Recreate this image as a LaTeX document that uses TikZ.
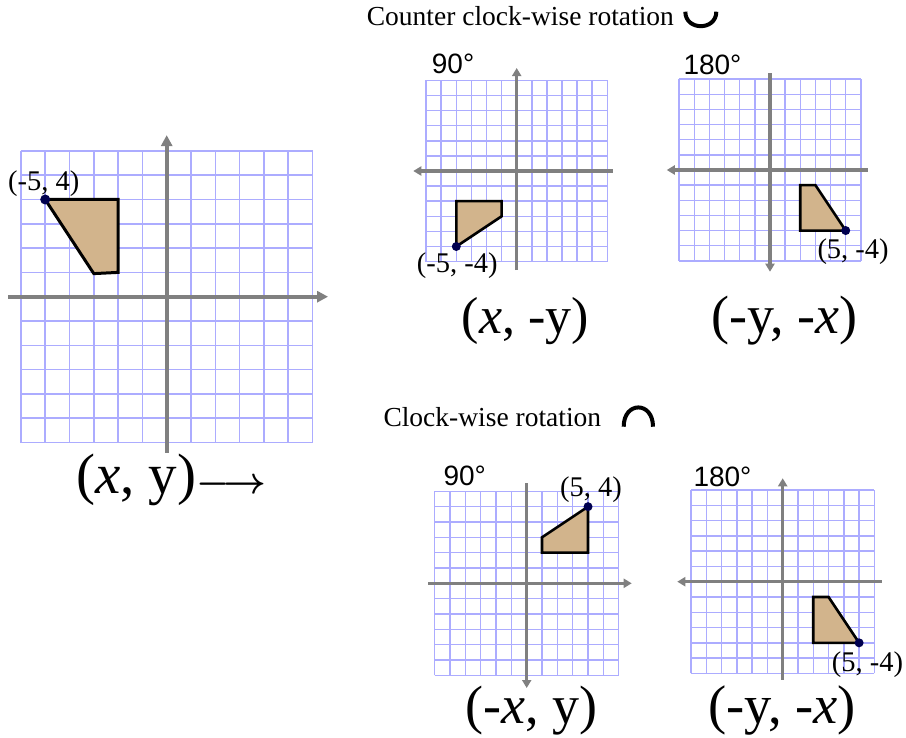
\documentclass[tikz,border=0pt]{standalone}
\usepackage{fontspec}
\setmainfont{Liberation Serif}
\newfontfamily\degfont{Liberation Sans}
\usetikzlibrary{arrows.meta}
\definecolor{gridblue}{RGB}{172,172,255}
\definecolor{axisgray}{RGB}{128,128,128}
\definecolor{shapefill}{RGB}{210,180,140}
\definecolor{dotnavy}{RGB}{0,0,80}
\tikzset{
  gridline/.style={gridblue, line width=1.5pt},
  axisline/.style={axisgray, line width=#1},
  tipbig/.style={-{Triangle[length=11pt,width=11pt]}},
  tipsmall/.style={-{Triangle[length=8pt,width=9pt]}},
  tipsmallrev/.style={{Triangle[length=8pt,width=9pt]}-},
  poly/.style={draw=black, fill=shapefill, line width=#1, line join=miter},
  ptdot/.style={fill=dotnavy},
  coordlbl/.style={font=\fontsize{28.5}{30}\selectfont, inner sep=0pt, anchor=base west},
  biglbl/.style={font=\fontsize{#1}{60}\selectfont, inner sep=0pt, anchor=base west},
  titlelbl/.style={font=\fontsize{27.5}{30}\selectfont, inner sep=0pt, anchor=base west},
  deglbl/.style={font=\degfont\fontsize{28}{30}\selectfont, inner sep=0pt, anchor=base west},
  rotsym/.style={line width=4pt, black},
}
\newcommand\gridlinesrot{%
  \foreach \i in {-6,...,6} {\draw[gridline] (\i,-6) -- (\i,6); \draw[gridline] (-6,\i) -- (6,\i);}}
\begin{document}
\begin{tikzpicture}[x=1pt,y=-1pt]
\useasboundingbox (0,0) rectangle (906,738);
\fill[white] (0,0) rectangle (906,738);

% main grid
\begin{scope}[shift={(166.7,296.7)}, x=24.3pt, y=24.3pt]
  \gridlinesrot
  \draw[axisline=4pt, tipbig] (-6.53,0) -- (6.64,0);
  \draw[axisline=4pt, tipbig] (0,-6.43) -- (0,6.65);
  \draw[poly=3pt] (-5,4) -- (-2,4) -- (-2,1) -- (-3,0.95) -- cycle;
  \fill[ptdot] (-5,4) circle[radius=5pt];
\end{scope}

% CCW 90
\begin{scope}[shift={(516.7,171)}, x=15.1pt, y=15.1pt]
  \gridlinesrot
  \draw[axisline=3.3pt, tipsmallrev] (-6.85,0) -- (6.38,0);
  \draw[axisline=3.3pt, tipsmall] (0,-6.56) -- (0,6.82);
  \draw[poly=2.6pt] (-4,-5) -- (-4,-2) -- (-1,-2) -- (-1,-3) -- cycle;
  \fill[ptdot] (-4,-5) circle[radius=4.5pt];
\end{scope}

% CCW 180
\begin{scope}[shift={(770,170)}, x=15.14pt, y=15.14pt]
  \gridlinesrot
  \draw[axisline=3.3pt, tipsmallrev] (-6.82,0) -- (6.47,0);
  \draw[axisline=3.3pt, tipsmallrev] (0,-6.72) -- (0,6.4);
  \draw[poly=2.6pt] (5,-4) -- (2,-4) -- (2,-1) -- (3,-1) -- cycle;
  \fill[ptdot] (5,-4) circle[radius=4.5pt];
\end{scope}

% CW 90
\begin{scope}[shift={(526.7,583.3)}, x=15.33pt, y=15.33pt]
  \gridlinesrot
  \draw[axisline=3.3pt, tipsmall] (-6.42,0) -- (6.85,0);
  \draw[axisline=3.3pt, tipsmallrev] (0,-6.83) -- (0,6.52);
  \draw[poly=2.6pt] (4,5) -- (4,2) -- (1,2) -- (1,3) -- cycle;
  \fill[ptdot] (4,5) circle[radius=4.5pt];
\end{scope}

% CW 180
\begin{scope}[shift={(782.7,581.7)}, x=15.28pt, y=15.28pt]
  \gridlinesrot
  \draw[axisline=3.3pt, tipsmallrev] (-6.9,0) -- (6.48,0);
  \draw[axisline=3.3pt, tipsmall] (0,-6.43) -- (0,6.77);
  \draw[poly=2.6pt] (5,-4) -- (2,-4) -- (2,-1) -- (3,-1) -- cycle;
  \fill[ptdot] (5,-4) circle[radius=4.5pt];
\end{scope}

% titles
\node[titlelbl] (ccwtitle) at (366.7,26) {Counter clock-wise rotation};
\node[titlelbl] (cwtitle) at (383.3,426) {Clock-wise rotation};
\draw[rotsym] (685.3,11.7) .. controls (685.3,31) and (716.3,31) .. (716.3,11.7);
\draw[rotsym] (623.7,426.7) .. controls (623.7,401) and (653,401) .. (653,426.7);

% degree labels
\node[deglbl] (degA) at (431.7,73.3) {90°};
\node[deglbl] (degB) at (683.3,75) {180°};
\node[deglbl] (degC) at (443.3,485) {90°};
\node[deglbl] (degD) at (693.3,486.7) {180°};

% coordinate labels
\node[coordlbl] (ptmain) at (8,191) {(-5, 4)};
\node[coordlbl] (ptA) at (416.7,273) {(-5, -4)};
\node[coordlbl] (ptB) at (817.3,259) {(5, -4)};
\node[coordlbl] (ptC) at (560,496.7) {(5, 4)};
\node[coordlbl] (ptD) at (831.7,671.7) {(5, -4)};

% rule labels
\node[biglbl=57] (ruleMain) at (76,493.3) {(\textit{x}, y)};
\node[inner sep=0pt, anchor=base west, font=\fontsize{24.88}{25}\selectfont] (arrowMain) at (ruleMain.base east) {\scalebox{1.5}{\boldmath$\longrightarrow$}};
\node[biglbl=52] (ruleA) at (461.7,333.3) {(\textit{x}, -y)};
\node[biglbl=54] (ruleB) at (711,333.3) {(-y, -\textit{x})};
\node[biglbl=54] (ruleC) at (465,723) {(-\textit{x}, y)};
\node[biglbl=54.5] (ruleD) at (708,723) {(-y, -\textit{x})};
\end{tikzpicture}
\end{document}
